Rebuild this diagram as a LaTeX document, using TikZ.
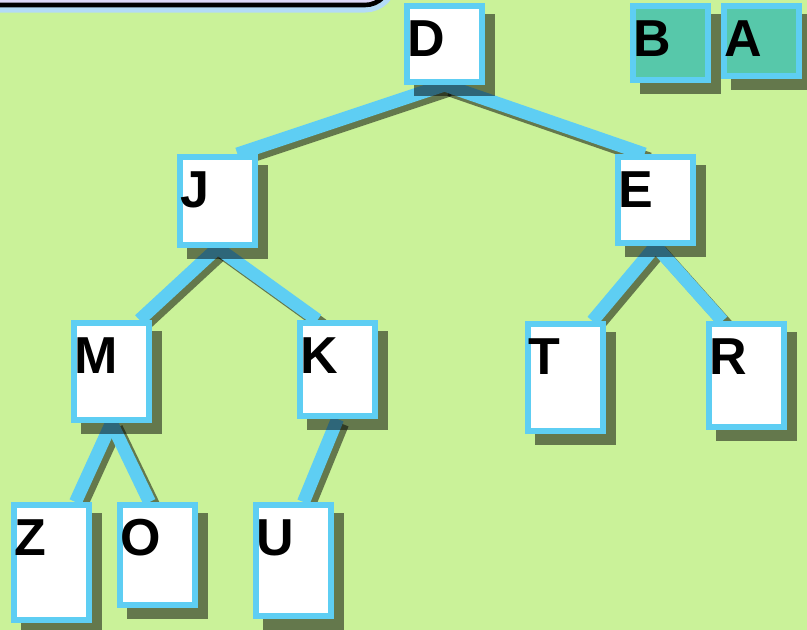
\documentclass[tikz,border=0pt]{standalone}
\usepackage{fontspec}
\setmainfont{Liberation Sans}
\usetikzlibrary{calc}

\definecolor{bggreen}{HTML}{CAF299}
\definecolor{nodeblue}{HTML}{5ECEF3}
\definecolor{boxteal}{HTML}{57C8AA}
\definecolor{panellav}{HTML}{DCD8F8}
\definecolor{panelglow}{HTML}{B3DBF6}

\pgfdeclarelayer{back}
\pgfdeclarelayer{lines}
\pgfdeclarelayer{shades}
\pgfsetlayers{back,lines,shades,main}

\begin{document}
\begin{tikzpicture}[x=1pt, y=-1pt,
    tbox/.style={draw=nodeblue, line width=6pt, fill=white, anchor=north west, inner xsep=0pt, inner ysep=3pt, text width=75pt, align=left, text height=47pt, text depth=#1, font=\bfseries\fontsize{52}{52}\selectfont},
    edge/.style={draw=nodeblue, line width=13pt},
    edgeshade/.style={draw=black, opacity=0.5, line width=13pt},
    boxshade/.style={fill=black, opacity=0.5}
]
\useasboundingbox (0,0) rectangle (807,630);

% background and the panel cut off at the top
\begin{pgfonlayer}{back}
\fill[bggreen] (0,0) rectangle (807,630);
\draw[panelglow, line width=15pt, rounded corners=25pt] (-40,-60) rectangle (390,5);
\filldraw[fill=panellav, draw=black, line width=4.6pt, rounded corners=25pt] (-40,-60) rectangle (390,5);
\end{pgfonlayer}

% tree nodes
\node[tbox=23pt] (D) at (404,3) {D};
\node[tbox=35pt] (J) at (177,154) {J};
\node[tbox=33pt] (E) at (615,154) {E};
\node[tbox=44pt] (M) at (71,320) {M};
\node[tbox=40pt] (K) at (297,320) {K};
\node[tbox=54pt] (T) at (525,321) {T};
\node[tbox=50pt] (R) at (706,321) {R};
\node[tbox=62pt] (Z) at (11,502) {Z};
\node[tbox=47pt] (O) at (117,502) {O};
\node[tbox=58pt] (U) at (253,502) {U};

% the two boxes top right
\node[tbox=21pt, fill=boxteal] (B) at (630,3) {B};
\node[tbox=17pt, fill=boxteal] (A) at (721,3) {A};

% edges with their shadows
\begin{pgfonlayer}{lines}
\foreach \a/\b/\dx in {D/J/20, D/E/-11, J/M/28, J/K/-20, E/T/27, E/R/-24, M/Z/24, M/O/-8, K/U/10}
    \draw[edgeshade] ([shift={(5,5)}]\a.south) -- ([shift={(5+\dx,5)}]\b.north);
\foreach \a/\b/\dx in {D/J/20, D/E/-11, J/M/28, J/K/-20, E/T/27, E/R/-24, M/Z/24, M/O/-8, K/U/10}
    \draw[edge] (\a.south) -- ([xshift=\dx pt]\b.north);
\end{pgfonlayer}

% box shadows
\begin{pgfonlayer}{shades}
\foreach \n in {D,J,E,M,K,T,R,Z,O,U,B,A}
    \fill[boxshade] ([shift={(10,11)}]\n.north west) rectangle ([shift={(10,11)}]\n.south east);
\end{pgfonlayer}
\end{tikzpicture}
\end{document}
